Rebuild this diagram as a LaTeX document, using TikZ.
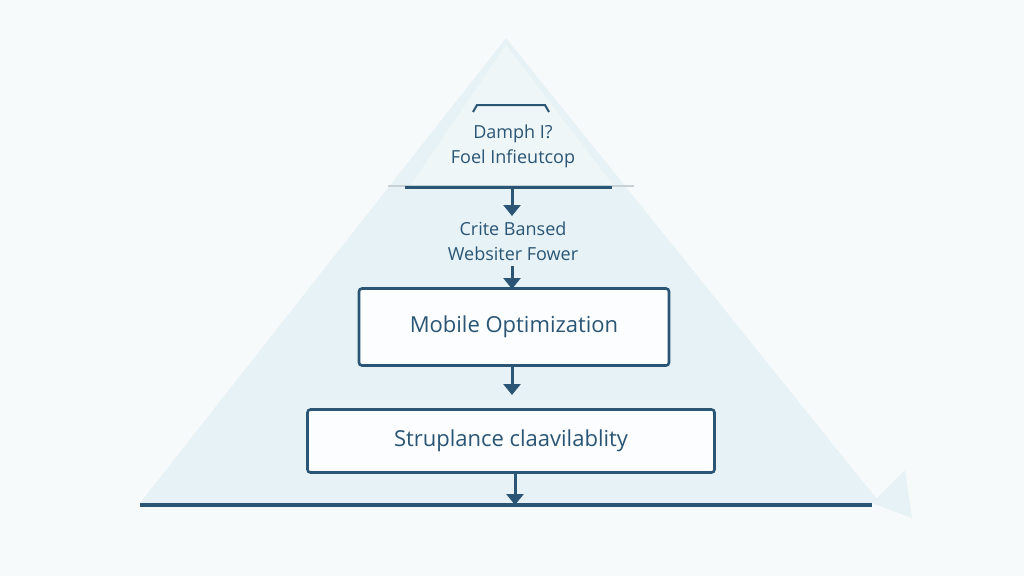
\documentclass[tikz,border=0pt]{standalone}
\usepackage{fontspec}
\setmainfont{Open Sans}
\usetikzlibrary{arrows.meta}
\definecolor{dk}{HTML}{2A5574}
\definecolor{tri}{HTML}{E6F2F5}
\definecolor{tri2}{HTML}{EEF6F8}
\definecolor{bg}{HTML}{F7FAFB}
\tikzset{x=1pt,y=-1pt,
 box/.style={draw=dk,line width=2.6pt,rounded corners=3pt,fill=white!85!tri,minimum width=#1,text=dk,font=\fontsize{22}{26}\selectfont},
 lbl/.style={text=dk,font=\fontsize{18}{25}\selectfont,align=center},
 arr/.style={draw=dk,line width=3pt,-{Triangle[width=17pt,length=11pt]}}}
\begin{document}
\begin{tikzpicture}
\useasboundingbox (0,0) rectangle (1024,576);
\fill[bg] (0,0) rectangle (1024,576);
\fill[tri] (872,503) -- (905,470) -- (912,518) -- cycle;
\fill[tri] (506,38) -- (140,503) -- (880,503) -- cycle;
\fill[tri2] (506,45) -- (410,186) -- (614,186) -- cycle;
\draw[tri!70!gray,line width=1.5pt] (388,186) -- (634,186);
\draw[dk,line width=2pt] (473,112) -- (477,105) -- (545,105) -- (549,112);
\node[lbl] (top) at (513,146) {Damph I?\\Foel Infieutcop};
\coordinate (tl) at (405,187); \coordinate (tr) at (612,187);
\draw[dk,line width=3pt] (tl) -- (tr);
\coordinate (a0) at (512,187);
\node[lbl] (mid) at (513,241) {Crite Bansed\\Websiter Fower};
\node[box=310pt,minimum height=77pt] (b1) at (514,327) {Mobile Optimization};
\node[box=407pt,minimum height=63pt] (b2) at (511,441) {Struplance claavilablity};
\coordinate (bl) at (140,505); \coordinate (br) at (872,505);
\draw[dk,line width=3.2pt] (bl) -- (br);
\coordinate (e) at (515,505);
\draw[arr] (a0) -- (512,216);
\draw[arr] (512,266) -- (512,289);
\draw[arr] (512,366) -- (512,395);
\draw[arr] (b2.south -| e) -- (e);
\end{tikzpicture}
\end{document}
